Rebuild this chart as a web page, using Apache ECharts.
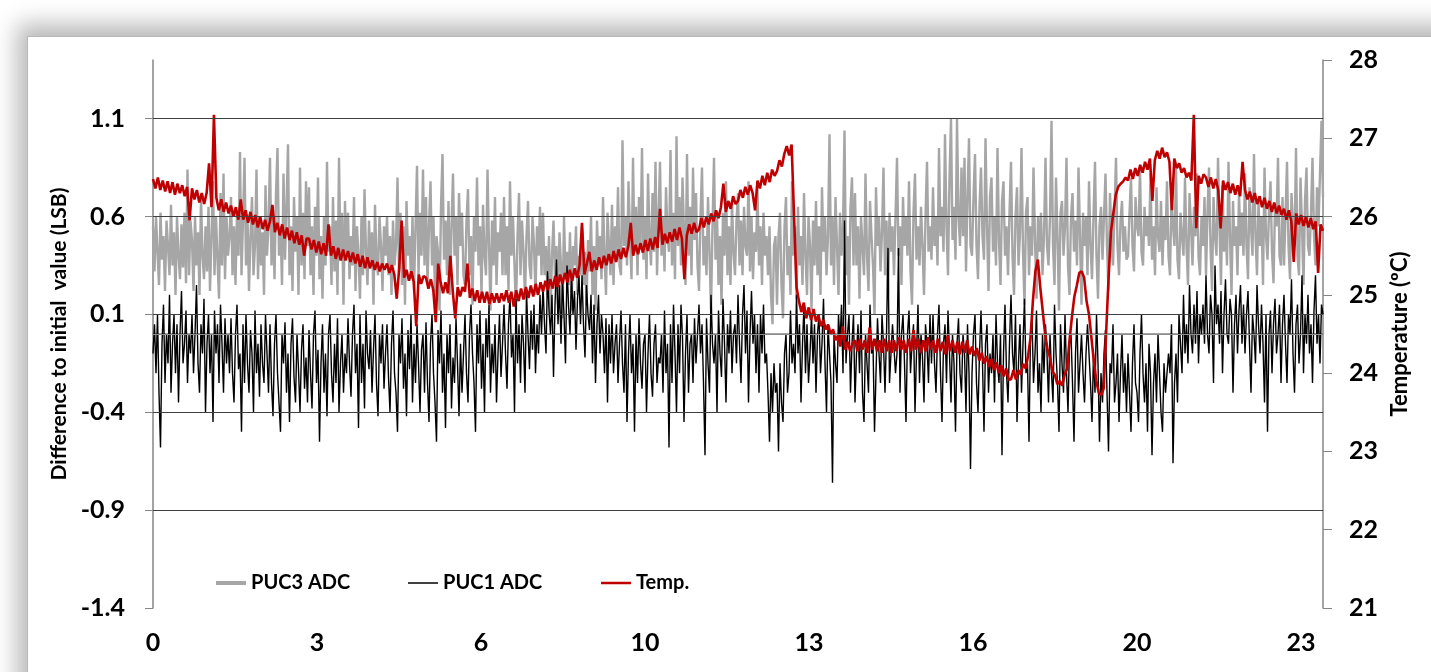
<!DOCTYPE html>
<html>
<head>
<meta charset="utf-8">
<script src="https://cdn.jsdelivr.net/npm/echarts@6/dist/echarts.min.js"></script>
<style>
    html, body { margin: 0; padding: 0; background: #fff; overflow: hidden; }
    .frame {
        position: absolute; left: 27px; top: 36px; width: 1440px; height: 700px;
        border: 1px solid #b8b8b8; background: #fff;
        box-shadow: -4px -6px 22px 6px rgba(0,0,0,0.28);
    }
    #chart { position: absolute; left: 0; top: 0; width: 1431px; height: 672px; }
</style>
</head>
<body>
<div class="frame"></div>
<div id="chart"></div>
<script>
// x axis: hours, labels as printed on the original axis
const xMax = 23.78;
const xLabelPos = [0, 10 / 3, 20 / 3, 10, 40 / 3, 50 / 3, 20, 70 / 3];
const xLabels = ['0', '3', '6', '10', '13', '16', '20', '23'];
const leftTicks = [-1.4, -0.9, -0.4, 0.1, 0.6, 1.1];
const gridValues = [-0.9, -0.4, 0.1, 0.6, 1.1];

// PUC3 ADC (LSB), evenly sampled over the run
const puc3 = [
    0.55,0.32,0.6,0.42,0.25,0.62,0.38,0.5,0.22,0.58,0.45,0.3,0.66,0.35,0.52,0.2,0.6,0.4,0.28,0.56,0.34,0.62,0.26,0.84,0.3,0.58,
    0.48,0.22,0.6,0.35,0.52,0.2,0.7,0.4,0.28,0.55,0.32,0.65,0.22,0.5,0.78,0.3,0.6,0.38,0.18,0.72,0.35,0.82,0.28,0.6,0.4,0.5,
    0.7,0.3,0.55,0.25,0.62,0.4,0.93,0.3,0.58,0.9,0.35,0.6,0.22,0.5,0.7,0.3,0.45,0.84,0.28,0.6,0.35,0.52,0.2,0.76,0.4,0.55,
    0.9,0.35,0.6,0.28,0.72,0.95,0.4,0.55,0.25,0.82,0.38,0.65,0.97,0.3,0.55,0.22,0.7,0.42,0.6,0.2,0.85,0.35,0.62,0.28,0.78,0.45,
    0.75,0.3,0.55,0.2,0.65,0.4,0.8,0.28,0.5,0.18,0.6,0.35,0.88,0.42,0.55,0.25,0.7,0.32,0.58,0.2,0.9,0.38,0.62,0.15,0.68,0.4,
    0.62,0.28,0.5,0.35,0.7,0.22,0.55,0.4,0.18,0.6,0.3,0.74,0.42,0.25,0.58,0.35,0.52,0.15,0.66,0.38,0.3,0.6,0.45,0.22,0.55,0.4,
    0.6,0.3,0.5,0.2,0.58,0.35,0.45,0.8,0.32,0.62,0.25,0.55,0.15,0.68,0.4,0.5,0.28,0.6,0.22,0.55,0.86,0.3,0.62,0.4,0.84,0.35,
    0.7,0.25,0.55,0.78,0.35,0.6,0.18,0.5,0.42,0.12,0.65,0.92,0.38,0.58,0.3,0.68,0.2,0.55,0.82,0.4,0.6,0.25,0.72,0.45,0.62,0.3,
    0.25,0.58,0.74,0.3,0.5,0.15,0.6,0.42,0.8,0.35,0.55,0.2,0.66,0.4,0.3,0.84,0.45,0.12,0.58,0.35,0.7,0.25,0.52,0.42,0.62,0.3,
    0.7,0.3,0.55,0.22,0.78,0.4,0.6,0.35,0.12,0.5,0.72,0.3,0.58,0.42,0.18,0.5,0.68,0.35,0.28,0.6,0.45,0.2,0.55,0.4,0.65,0.3,
    0.62,0.3,0.45,0.2,0.5,0.1,0.4,0.58,0.28,0.45,0.15,0.52,0.35,0.08,0.6,0.3,0.42,0.25,0.52,0.12,0.45,0.35,0.55,0.2,0.4,0.3,
    0.55,0.25,0.42,0.15,0.48,0.32,0.6,0.2,0.45,0.12,0.58,0.35,0.5,0.28,0.7,0.4,0.2,0.62,0.45,0.3,0.66,0.25,0.55,0.4,0.75,0.35,
    0.3,0.99,0.45,0.6,0.35,0.78,0.5,0.28,0.9,0.42,0.65,0.3,0.7,0.45,0.95,0.38,0.6,0.28,0.82,0.5,0.35,0.72,0.42,0.88,0.3,0.6,
    0.88,0.4,0.6,0.32,0.75,0.5,0.42,0.94,0.35,0.62,0.28,1.01,0.45,0.7,0.35,0.8,0.52,0.25,0.92,0.4,0.65,0.3,0.85,0.48,0.72,0.35,
    0.22,0.6,0.85,0.35,0.5,0.3,0.7,0.42,0.12,0.55,0.9,0.38,0.62,0.25,0.5,0.15,0.62,0.4,0.78,0.3,0.55,0.25,0.68,0.42,0.3,0.58,
    0.72,0.35,0.58,0.3,0.65,0.45,0.4,0.78,0.32,0.6,0.28,0.52,0.42,0.74,0.35,0.55,0.25,0.62,0.4,0.5,0.3,0.55,0.2,0.05,0.45,0.5,
    0.15,0.5,0.62,0.25,0.08,0.55,0.7,0.3,0.45,0.2,0.78,0.4,0.55,0.18,0.65,0.35,0.5,0.25,0.72,0.4,0.2,0.6,0.45,0.12,0.58,0.35,
    0.68,0.3,0.55,0.2,0.75,0.42,0.6,0.3,0.5,1.02,0.35,0.6,0.25,0.7,0.45,0.2,0.62,0.4,0.55,1.04,0.3,0.5,0.15,0.65,0.8,0.35,
    0.72,0.35,0.55,0.18,0.6,0.45,0.3,0.82,0.4,0.22,0.68,0.5,0.35,0.1,0.75,0.45,0.6,0.32,0.52,0.85,0.3,0.58,0.2,0.62,0.42,0.55,
    0.3,0.6,0.9,0.4,0.55,0.25,0.7,0.45,0.6,0.4,0.78,0.32,0.15,0.62,0.82,0.38,0.55,0.35,0.65,0.45,0.2,0.6,0.88,0.42,0.55,0.38,
    0.75,0.45,0.6,0.35,0.95,0.5,0.65,0.42,1.02,0.55,0.3,0.8,1.1,0.48,0.65,0.38,1.1,0.6,0.45,0.85,0.5,0.9,0.32,0.7,1.0,0.45,
    0.4,0.7,0.92,0.45,0.28,0.65,0.85,0.5,0.38,1.0,0.55,0.22,0.7,0.8,0.42,0.6,0.35,0.95,0.48,0.25,0.68,0.78,0.4,0.55,0.3,0.62,
    0.88,0.4,0.2,0.6,0.75,0.35,0.52,0.95,0.42,0.15,0.62,0.7,0.3,0.55,0.4,0.85,0.48,0.18,0.6,0.42,0.62,0.3,0.5,0.9,0.45,0.35,
    0.6,1.09,0.45,0.25,0.8,0.5,0.12,0.62,0.68,0.4,0.55,0.9,0.35,0.2,0.6,0.72,0.42,0.58,0.35,0.85,0.5,0.15,0.62,0.45,0.6,0.3,
    0.78,0.45,0.28,0.6,0.88,0.4,0.18,0.55,0.65,0.38,0.6,0.82,0.45,0.22,0.72,0.5,0.35,0.62,0.9,0.45,0.3,0.58,0.68,0.42,0.55,0.38,
    0.4,0.62,0.8,0.45,0.32,0.7,0.55,0.5,0.85,0.42,0.35,0.65,0.5,0.6,0.45,0.82,0.38,0.55,0.3,0.75,0.5,0.42,0.68,0.35,0.6,0.48,
    0.78,0.4,0.3,0.7,0.55,0.45,0.85,0.38,0.28,0.62,0.5,0.4,0.8,0.45,0.25,0.72,0.55,0.35,0.65,0.5,0.82,0.4,0.3,0.6,0.45,0.7,
    0.3,0.62,0.85,0.45,0.22,0.7,0.5,0.4,0.9,0.55,0.25,0.76,0.42,0.6,0.35,0.88,0.5,0.2,0.68,0.45,0.55,0.3,0.72,0.45,0.62,0.4,
    0.82,0.45,0.28,0.75,0.55,0.4,0.92,0.5,0.3,0.68,0.45,0.6,0.25,0.85,0.5,0.38,0.62,0.78,0.42,0.26,0.65,0.55,0.9,0.4,0.35,0.7,
    0.35,0.6,0.88,0.45,0.28,0.72,0.55,0.45,0.95,0.4,0.3,0.8,0.55,0.25,0.68,0.85,0.45,0.4,0.62,0.9,0.5,0.35,0.75,0.55,0.82,1.09,
    0.7
];

// PUC1 ADC (LSB)
const puc1 = [
    -0.1,0.05,-0.2,0.1,-0.3,-0.58,-0.05,0.15,-0.25,0.0,-0.15,0.2,-0.3,-0.05,0.1,-0.2,0.05,-0.35,0.0,0.22,-0.15,-0.05,0.12,-0.25,0.0,-0.1,
    0.1,-0.2,0.0,0.25,-0.15,-0.3,0.05,-0.1,0.18,-0.4,-0.05,0.1,-0.2,0.0,-0.45,0.12,-0.1,0.05,-0.25,0.15,-0.05,-0.3,0.08,-0.15,0.0,-0.2,
    0.08,-0.2,-0.35,0.0,0.15,-0.18,-0.1,-0.5,0.05,-0.25,0.1,-0.15,-0.3,0.02,-0.1,-0.4,0.12,-0.2,-0.05,-0.32,0.05,-0.15,-0.25,0.1,-0.1,-0.3,
    0.05,-0.25,-0.42,-0.05,0.1,-0.2,-0.35,-0.5,0.0,-0.15,0.06,-0.3,-0.1,-0.45,-0.05,0.08,-0.22,-0.35,0.0,-0.18,-0.4,-0.08,0.05,-0.28,-0.12,-0.35,
    0.02,-0.2,-0.38,0.0,0.12,-0.25,-0.08,-0.55,-0.15,0.05,-0.3,-0.1,-0.42,0.0,0.1,-0.2,-0.35,-0.05,-0.25,0.08,-0.4,-0.15,0.0,-0.3,-0.1,-0.2,
    0.08,-0.15,-0.32,0.0,0.15,-0.2,-0.05,-0.48,0.1,-0.25,-0.05,-0.38,0.12,-0.1,-0.18,0.02,-0.3,-0.08,0.1,-0.25,-0.42,0.0,-0.15,0.05,-0.28,-0.1,
    0.05,-0.22,-0.4,-0.05,0.12,-0.2,-0.3,-0.5,0.0,-0.15,0.08,-0.28,-0.1,-0.42,0.02,-0.18,0.1,-0.35,-0.05,-0.25,0.05,-0.15,-0.4,-0.08,0.0,-0.3,
    0.06,-0.25,-0.45,-0.05,0.1,-0.2,-0.35,-0.55,0.02,-0.15,0.12,-0.3,-0.1,-0.48,0.0,-0.2,0.05,-0.38,-0.12,-0.25,0.08,-0.15,-0.42,-0.05,-0.3,-0.1,
    0.1,-0.2,-0.35,0.0,0.15,-0.1,-0.25,-0.5,0.05,-0.15,0.12,-0.28,-0.05,-0.4,0.08,-0.12,0.15,-0.3,-0.05,-0.2,0.05,-0.35,-0.1,0.1,-0.22,-0.05,
    0.15,-0.1,-0.28,0.05,0.2,-0.12,0.0,-0.4,0.18,-0.15,0.05,-0.25,0.1,-0.05,-0.3,0.22,0.0,-0.18,0.12,-0.08,0.15,-0.2,0.05,-0.1,0.2,0.0,
    0.25,0.05,-0.1,0.32,0.12,0.0,0.2,-0.22,0.15,0.38,0.05,0.25,-0.05,0.28,0.1,-0.15,0.35,0.15,0.0,0.3,0.1,0.22,-0.08,0.18,0.3,0.05,
    0.3,0.05,-0.12,0.25,0.1,0.02,0.2,-0.15,0.15,-0.25,0.05,0.2,-0.1,0.1,0.0,-0.2,0.08,-0.35,0.05,-0.15,0.1,-0.2,-0.05,0.05,-0.25,-0.05,
    0.12,-0.15,-0.3,0.05,-0.45,-0.1,0.1,-0.2,-0.05,-0.5,0.0,-0.25,0.08,-0.15,-0.28,-0.05,0.0,-0.4,-0.1,0.1,-0.2,-0.32,-0.05,0.05,-0.25,-0.12,
    -0.15,0.0,-0.3,0.12,-0.2,-0.05,-0.58,0.05,-0.25,0.15,-0.1,-0.4,0.05,-0.2,0.15,-0.02,-0.45,-0.1,0.1,-0.3,-0.05,0.0,-0.25,0.08,-0.15,0.0,
    0.15,-0.1,0.05,-0.25,-0.62,0.08,-0.15,-0.3,0.2,-0.05,-0.15,0.0,-0.4,0.12,-0.1,-0.22,0.18,-0.05,-0.35,0.05,-0.1,0.12,-0.2,0.0,0.05,-0.15,
    0.2,-0.05,-0.25,0.1,0.25,-0.1,0.12,-0.35,0.0,0.22,-0.05,0.1,-0.2,0.05,-0.3,0.1,-0.1,0.15,-0.15,-0.1,-0.3,-0.55,-0.2,-0.4,-0.15,-0.3,
    -0.25,-0.6,-0.15,-0.35,-0.45,-0.1,0.0,-0.3,-0.2,0.12,-0.15,-0.05,-0.2,0.2,-0.1,0.05,-0.35,-0.05,0.15,-0.2,0.05,-0.25,-0.1,0.1,-0.15,0.05,
    -0.3,0.0,0.1,-0.2,-0.05,0.18,-0.15,-0.4,0.05,-0.1,-0.25,-0.76,0.0,-0.15,-0.25,0.1,-0.05,0.15,-0.2,0.58,-0.15,0.0,0.1,-0.3,-0.05,0.1,
    -0.35,-0.1,0.05,-0.2,0.12,-0.3,-0.45,0.0,-0.15,-0.3,0.15,-0.1,-0.05,-0.5,-0.2,0.08,-0.1,-0.25,0.1,-0.05,-0.3,0.0,0.44,-0.25,-0.1,0.05,
    0.05,-0.2,-0.1,0.44,-0.3,0.0,0.1,-0.15,-0.45,0.0,0.12,-0.2,-0.05,0.05,-0.4,-0.1,0.15,-0.25,0.0,-0.12,-0.35,0.05,-0.05,-0.25,0.1,-0.15,
    0.1,-0.15,-0.3,0.0,0.15,-0.2,-0.45,-0.05,0.05,-0.25,0.12,-0.1,-0.35,0.0,-0.15,-0.5,-0.05,0.08,-0.2,-0.3,0.0,-0.1,-0.4,0.05,-0.2,-0.69,
    -0.2,0.0,0.1,-0.25,-0.4,-0.1,0.12,-0.15,-0.5,-0.05,0.05,-0.3,-0.1,-0.2,0.0,-0.35,0.1,-0.15,-0.25,0.0,-0.62,-0.1,0.15,-0.2,-0.35,-0.05,
    0.2,-0.1,-0.2,0.1,-0.45,-0.15,0.05,-0.3,-0.05,0.18,-0.2,-0.15,-0.55,0.0,0.08,-0.25,-0.1,0.12,-0.3,-0.15,-0.4,0.0,-0.2,0.05,-0.1,-0.35,
    0.0,-0.2,-0.35,0.15,-0.1,-0.25,-0.5,0.05,-0.15,-0.3,0.1,-0.2,-0.4,-0.05,0.0,-0.25,-0.55,-0.1,0.08,-0.3,-0.15,0.0,-0.2,-0.35,-0.1,0.05,
    0.05,-0.25,-0.45,-0.1,-0.3,0.1,-0.15,-0.55,-0.2,-0.35,-0.1,0.02,-0.3,-0.6,-0.15,-0.2,0.05,-0.35,-0.25,-0.1,-0.45,-0.2,0.0,-0.3,-0.15,-0.4,
    -0.1,-0.3,-0.5,-0.15,0.05,-0.25,-0.3,-0.45,-0.1,0.1,-0.2,-0.35,-0.15,-0.5,-0.05,-0.2,-0.62,-0.25,-0.1,-0.35,0.0,-0.2,-0.4,-0.5,-0.15,-0.3,
    -0.3,-0.1,-0.2,0.05,-0.66,-0.25,-0.1,-0.35,0.1,-0.05,-0.2,0.2,-0.1,0.05,-0.15,0.25,0.0,-0.1,0.15,-0.05,0.22,-0.15,0.1,0.0,0.15,-0.05,
    0.3,0.0,-0.1,0.2,0.1,-0.25,0.35,0.05,0.15,-0.05,0.22,-0.2,0.1,0.28,0.0,-0.05,0.18,0.1,-0.3,0.05,0.2,-0.1,0.12,0.25,-0.05,0.15,
    -0.1,0.1,0.22,-0.05,-0.3,0.1,0.0,-0.15,0.25,0.05,-0.1,0.15,-0.05,-0.35,0.1,-0.5,0.0,0.12,-0.2,0.05,0.18,-0.1,0.0,0.15,-0.25,0.05,
    0.2,-0.05,-0.25,0.1,0.0,0.28,-0.1,-0.3,0.05,0.15,-0.15,0.0,0.3,-0.2,0.1,-0.05,0.2,-0.1,0.05,-0.25,0.12,0.3,-0.05,0.1,-0.15,0.15,
    0.1
];

// Temperature (ºC)
const temp = [
    26.48,26.36,26.5,26.34,26.46,26.32,26.45,26.3,26.44,26.28,26.42,26.3,26.4,26.26,26.38,25.95,
    26.36,26.22,26.34,26.18,26.3,26.16,26.3,26.68,26.12,27.3,26.24,26.08,26.22,26.06,26.18,26.04,
    26.14,26.0,26.12,25.96,26.22,25.96,26.08,25.92,26.06,25.9,26.02,25.86,26.0,25.84,25.96,25.82,
    25.94,26.15,25.8,25.92,25.76,25.9,25.72,25.86,25.7,25.82,25.66,25.8,25.64,25.76,25.5,25.72,
    25.72,25.58,25.7,25.54,25.68,25.52,25.66,25.5,25.9,25.5,25.62,25.46,25.6,25.44,25.58,25.44,
    25.56,25.42,25.54,25.4,25.52,25.36,25.5,25.34,25.48,25.34,25.44,25.32,25.42,25.3,25.4,25.32,
    25.4,25.28,25.38,25.26,24.95,25.34,25.95,25.22,25.32,25.18,25.3,25.16,24.6,25.26,25.14,25.24,
    25.22,25.08,25.2,25.06,24.65,25.4,25.16,25.02,25.16,25.02,25.5,25.04,24.7,25.1,24.98,25.1,
    25.04,25.4,24.96,25.08,24.92,25.06,24.9,25.04,24.9,25.04,24.88,25.02,24.9,25.02,24.9,25.02,
    24.92,25.06,24.9,25.04,24.85,25.06,24.92,25.08,24.94,25.1,24.96,25.12,24.98,25.14,25.0,25.16,
    25.04,25.18,25.06,25.2,25.08,25.24,25.1,25.26,25.14,25.28,25.16,25.32,25.18,25.34,25.22,25.38,
    25.92,25.26,25.4,25.55,25.3,25.44,25.32,25.48,25.34,25.5,25.38,25.52,25.4,25.56,25.42,25.58,
    25.46,25.6,25.48,25.62,25.92,25.5,25.64,25.52,25.66,25.54,25.7,25.56,25.72,25.58,25.74,25.6,
    26.1,25.64,25.78,25.66,25.8,25.68,25.84,25.7,25.86,25.72,25.2,25.76,25.9,25.78,25.92,25.8,
    25.84,25.98,25.86,26.0,25.9,26.04,25.94,26.08,25.98,26.12,26.42,26.06,26.2,26.1,26.26,26.16,
    26.2,26.34,26.24,26.38,26.28,26.4,26.3,26.08,26.46,26.36,26.52,26.4,26.56,26.44,26.6,26.52,
    26.58,26.72,26.64,26.8,26.9,26.78,26.92,26.0,25.1,24.92,24.78,24.9,24.7,24.84,24.68,24.82,
    24.66,24.74,24.6,24.68,24.56,24.62,24.5,24.56,24.42,24.48,24.34,24.6,24.3,24.4,24.28,24.38,
    24.42,24.28,24.44,24.3,24.42,24.26,24.58,24.3,24.44,24.28,24.42,24.26,24.44,24.28,24.42,24.26,
    24.42,24.28,24.46,24.3,24.42,24.26,24.44,24.28,24.55,24.3,24.44,24.26,24.42,24.28,24.46,24.3,
    24.42,24.26,24.44,24.28,24.4,24.24,24.48,24.28,24.42,24.26,24.4,24.24,24.4,24.26,24.42,24.24,
    24.34,24.22,24.32,24.16,24.26,24.12,24.22,24.08,24.18,24.04,24.14,24.0,24.1,23.96,24.06,23.92,
    23.92,24.04,23.92,24.04,23.98,24.12,24.06,24.22,24.45,24.93,25.3,25.45,25.1,24.8,24.5,24.3,
    24.2,24.02,23.98,23.86,23.9,23.84,23.98,24.06,24.42,24.72,24.98,25.12,25.28,25.3,25.22,24.92,
    24.75,24.45,24.15,23.9,23.75,23.72,23.8,24.5,25.2,25.8,26.05,26.28,26.38,26.42,26.45,26.5,
    26.46,26.6,26.48,26.62,26.52,26.66,26.56,26.7,26.6,26.74,26.2,26.72,26.84,26.74,26.88,26.76,
    26.82,26.7,26.08,26.74,26.62,26.68,26.56,26.62,26.5,26.56,26.46,27.3,25.85,26.52,26.42,26.54,
    26.5,26.38,26.5,26.36,26.48,26.34,25.85,26.46,26.34,26.44,26.3,26.42,26.28,26.4,26.26,26.7,
    26.34,26.22,26.32,26.18,26.3,26.16,26.26,26.12,26.24,26.1,26.2,26.06,26.18,26.04,26.14,26.02,
    26.1,25.96,26.08,25.94,25.42,26.04,25.9,26.02,25.88,26.0,25.86,25.98,25.84,25.94,25.28,25.9,
    25.82
];

function toPairs(arr) {
    let step = xMax / (arr.length - 1);
    return arr.map((v, i) => [i * step, v]);
}

const font = 'Lato, "DejaVu Sans", sans-serif';
const axisGray = '#868686';
const legendText = { fontFamily: font, fontWeight: 'bold', fontSize: 20, color: '#000' };

let chart = echarts.init(document.getElementById('chart'), null, { renderer: 'canvas' });
let option = {
    animation: false,
    textStyle: { fontFamily: font },
    grid: { left: 153, right: 108, top: 60, bottom: 64, containLabel: false },
    legend: [
        { left: 211, top: 568, itemWidth: 30, itemHeight: 4, itemGap: 2, textStyle: legendText,
          data: [{ name: 'PUC3 ADC', icon: 'rect', itemStyle: { color: '#a6a6a6' } }] },
        { left: 403, top: 568, itemWidth: 30, itemHeight: 1.5, itemGap: 2, textStyle: legendText,
          data: [{ name: 'PUC1 ADC', icon: 'rect', itemStyle: { color: '#000' } }] },
        { left: 596, top: 568, itemWidth: 30, itemHeight: 2.5, itemGap: 2, textStyle: legendText,
          data: [{ name: 'Temp.', icon: 'rect', itemStyle: { color: '#c00000' } }] }
    ],
    xAxis: {
        type: 'value',
        min: 0,
        max: xMax,
        axisLine: { show: true, lineStyle: { color: axisGray, width: 1.5 } },
        axisTick: { show: false },
        splitLine: { show: false },
        axisLabel: {
            customValues: xLabelPos,
            margin: 22,
            fontFamily: font, fontWeight: 'bold', fontSize: 25, color: '#000',
            formatter: function (v) {
                let i = xLabelPos.findIndex(p => Math.abs(p - v) < 1e-6);
                return i >= 0 ? xLabels[i] : '';
            }
        }
    },
    yAxis: [
        {
            type: 'value',
            min: -1.4,
            max: 1.4,
            name: 'Difference to initial  value (LSB)',
            nameLocation: 'middle',
            nameRotate: 90,
            nameGap: 80,
            nameTextStyle: { fontFamily: font, fontWeight: 'bold', fontSize: 21, color: '#000' },
            axisLine: { show: true, lineStyle: { color: axisGray, width: 1.5 } },
            axisTick: { show: true, customValues: leftTicks, length: 8, lineStyle: { color: axisGray } },
            splitLine: { show: false },
            axisLabel: {
                customValues: leftTicks,
                margin: 28,
                fontFamily: font, fontWeight: 'bold', fontSize: 25, color: '#000',
                formatter: v => v.toFixed(1)
            }
        },
        {
            type: 'value',
            min: 21,
            max: 28,
            interval: 1,
            position: 'right',
            name: 'Temperature (ºC)',
            nameLocation: 'middle',
            nameRotate: 90,
            nameGap: 66,
            nameTextStyle: { fontFamily: font, fontWeight: 'bold', fontSize: 22, color: '#000' },
            axisLine: { show: true, lineStyle: { color: axisGray, width: 1.5 } },
            axisTick: { show: true, length: 9, lineStyle: { color: axisGray } },
            splitLine: { show: false },
            axisLabel: {
                margin: 26,
                fontFamily: font, fontWeight: 'bold', fontSize: 25, color: '#000'
            }
        }
    ],
    series: [
        {
            name: 'PUC3 ADC',
            type: 'line',
            yAxisIndex: 0,
            showSymbol: false,
            lineStyle: { color: '#a6a6a6', width: 2.4 },
            itemStyle: { color: '#a6a6a6' },
            data: toPairs(puc3),
            markLine: {
                silent: true,
                symbol: 'none',
                label: { show: false },
                data: gridValues.map(v => ({ yAxis: v, lineStyle: { color: '#404040', width: 1.2, type: 'solid' } }))
                    .concat([{ yAxis: 0, lineStyle: { color: '#8c8c8c', width: 1.2, type: 'solid' } }])
            }
        },
        {
            name: 'PUC1 ADC',
            type: 'line',
            yAxisIndex: 0,
            showSymbol: false,
            lineStyle: { color: '#000', width: 1.4 },
            itemStyle: { color: '#000' },
            data: toPairs(puc1)
        },
        {
            name: 'Temp.',
            type: 'line',
            yAxisIndex: 1,
            showSymbol: false,
            lineStyle: { color: '#c00000', width: 2.6 },
            itemStyle: { color: '#c00000' },
            data: toPairs(temp)
        }
    ]
};
chart.setOption(option);
</script>
</body>
</html>
